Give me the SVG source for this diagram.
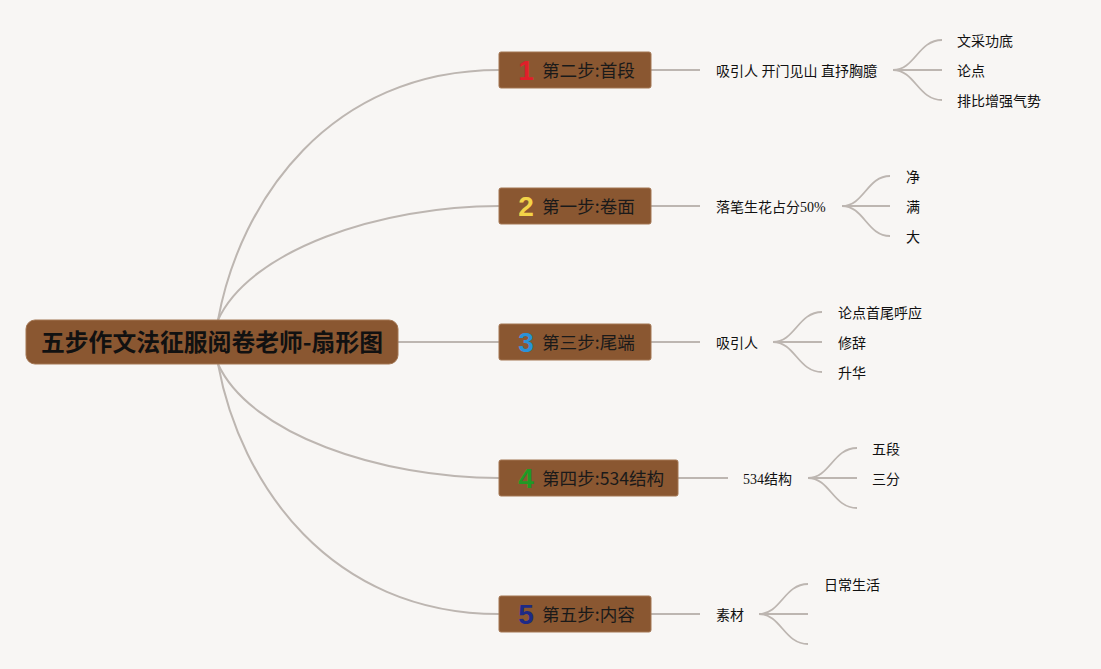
<svg xmlns="http://www.w3.org/2000/svg" width="1101" height="669" viewBox="0 0 1101 669">
<style>
.bg{fill:#f8f6f4}
.node{fill:#8a5731;stroke:#a37653;stroke-width:1}
.main{fill:none;stroke:#bdb6b1;stroke-width:2}
.sub{fill:none;stroke:#bdb6b1;stroke-width:1.8}
.root{font-family:"Noto Sans CJK SC",sans-serif;font-weight:bold;font-size:23.8px;fill:#111}
.nt{font-family:"Noto Sans CJK SC",sans-serif;font-size:17.6px;fill:#1a1a1a}
.num{font-family:"Liberation Sans",sans-serif;font-weight:bold;font-size:28px}
.ct{font-family:"Liberation Serif","Noto Sans CJK SC",serif;font-size:14px;fill:#111}
</style>
<rect class="bg" x="0" y="0" width="1101" height="669"/>
<g id="connectors">
<path class="main" d="M218,320 C240,200 330,70 499,70"/>
<path class="main" d="M218,320 C250,250 380,206 499,206"/>
<path class="main" d="M398,342 L499,342"/>
<path class="main" d="M218,364 C250,434 380,478 499,478"/>
<path class="main" d="M218,364 C240,484 330,614 499,614"/>
<path class="sub" d="M651,70 L700,70"/>
<path class="sub" d="M651,206 L700,206"/>
<path class="sub" d="M651,342 L700,342"/>
<path class="sub" d="M678,478 L728,478"/>
<path class="sub" d="M651,614 L700,614"/>
<path class="sub" d="M893,70 C915,70 918,40 942,40 M893,70 L942,70 M893,70 C915,70 918,100 942,100"/>
<path class="sub" d="M842,206 C864,206 867,176 890,176 M842,206 L890,206 M842,206 C864,206 867,236 890,236"/>
<path class="sub" d="M773,342 C795,342 798,312 822,312 M773,342 L822,342 M773,342 C795,342 798,372 822,372"/>
<path class="sub" d="M808,478 C830,478 833,448 857,448 M808,478 L857,478 M808,478 C830,478 833,508 857,508"/>
<path class="sub" d="M759,614 C781,614 784,584 808,584 M759,614 L808,614 M759,614 C781,614 784,644 808,644"/>
</g>
<g id="root">
<rect class="node" x="26" y="320" width="372" height="44" rx="9"/>
<text class="root" x="212" y="351" text-anchor="middle">五步作文法征服阅卷老师-扇形图</text>
</g>
<g id="n1">
<rect class="node" x="499" y="52" width="152" height="36" rx="2"/>
<text class="num" x="526" y="80" text-anchor="middle" fill="#e01f2a">1</text>
<text class="nt" x="542" y="77">第二步:首段</text>
</g>
<g id="n2">
<rect class="node" x="499" y="188" width="152" height="36" rx="2"/>
<text class="num" x="526" y="216" text-anchor="middle" fill="#f3d448">2</text>
<text class="nt" x="542" y="213">第一步:卷面</text>
</g>
<g id="n3">
<rect class="node" x="499" y="324" width="152" height="36" rx="2"/>
<text class="num" x="526" y="352" text-anchor="middle" fill="#2a93d8">3</text>
<text class="nt" x="542" y="349">第三步:尾端</text>
</g>
<g id="n4">
<rect class="node" x="499" y="460" width="179" height="36" rx="2"/>
<text class="num" x="526" y="488" text-anchor="middle" fill="#1f9a25">4</text>
<text class="nt" x="542" y="485">第四步:534结构</text>
</g>
<g id="n5">
<rect class="node" x="499" y="596" width="152" height="36" rx="2"/>
<text class="num" x="526" y="624" text-anchor="middle" fill="#1e2a86">5</text>
<text class="nt" x="542" y="621">第五步:内容</text>
</g>
<g id="c1">
<text class="ct" x="716" y="76">吸引人 开门见山 直抒胸臆</text>
<text class="ct" x="957" y="46">文采功底</text>
<text class="ct" x="957" y="76">论点</text>
<text class="ct" x="957" y="106">排比增强气势</text>
</g>
<g id="c2">
<text class="ct" x="716" y="212">落笔生花占分50%</text>
<text class="ct" x="906" y="182">净</text>
<text class="ct" x="906" y="212">满</text>
<text class="ct" x="906" y="242">大</text>
</g>
<g id="c3">
<text class="ct" x="716" y="348">吸引人</text>
<text class="ct" x="838" y="318">论点首尾呼应</text>
<text class="ct" x="838" y="348">修辞</text>
<text class="ct" x="838" y="378">升华</text>
</g>
<g id="c4">
<text class="ct" x="743" y="484">534结构</text>
<text class="ct" x="872" y="454">五段</text>
<text class="ct" x="872" y="484">三分</text>
</g>
<g id="c5">
<text class="ct" x="716" y="620">素材</text>
<text class="ct" x="824" y="590">日常生活</text>
</g>
</svg>
